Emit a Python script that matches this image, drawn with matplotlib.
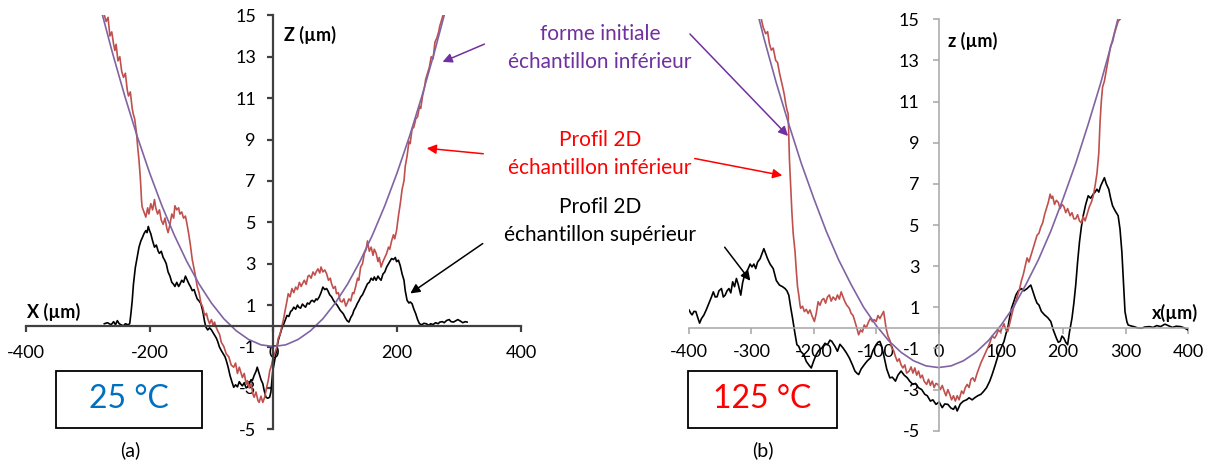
import matplotlib
matplotlib.use('Agg')
import matplotlib.pyplot as plt
from matplotlib.patches import Rectangle, FancyArrowPatch

plt.rcParams['font.family'] = ['Lato', 'DejaVu Sans']

W, H = 1206, 462

# ---- panel (a) : 25 °C ----
a_form_x = [-280, -260, -240, -220, -200, -180, -160, -140, -120, -100, -80, -60, -40, -20,
            0, 20, 40, 60, 80, 100, 120, 140, 160, 180, 200, 220, 240, 260, 280]
a_form_z = [15.46, 13.2, 11.1, 9.16, 7.4, 5.8, 4.38, 3.12, 2.02, 1.1, 0.34, -0.24, -0.66, -0.92,
            -1.0, -0.92, -0.66, -0.24, 0.34, 1.1, 2.02, 3.12, 4.38, 5.8, 7.4, 9.16, 11.1, 13.2, 15.46]

a_inf_x = [-273, -270, -267, -264, -261, -258, -256, -254, -251, -248, -245, -242, -239, -236,
           -234, -231, -228, -226, -224, -221, -219, -217, -215, -214, -213, -212, -209, -206,
           -203, -201, -198, -195, -192, -190, -187, -184, -181, -178, -175, -172, -170, -167,
           -164, -161, -159, -156, -153, -151, -148, -145, -142, -140, -137, -134, -131, -127,
           -123, -120, -117, -114, -111, -108, -106, -103, -100, -97, -95, -92, -89, -87, -84,
           -80, -76, -72, -68, -64, -61, -58, -55, -53, -50, -47, -44, -42, -39, -36, -33, -31,
           -28, -25, -23, -20, -17, -14, -11, -8, -6, -3, 0, 2, 5, 8, 11, 14, 17, 19, 22, 24,
           27, 30, 33, 36, 39, 42, 45, 47, 50, 53, 56, 58, 61, 64, 67, 69, 72, 75, 77, 80, 83,
           86, 89, 92, 94, 97, 100, 102, 105, 108, 111, 114, 117, 119, 122, 125, 128, 130, 133,
           136, 138, 141, 144, 147, 150, 152, 155, 158, 161, 163, 166, 169, 171, 174, 177, 180,
           183, 186, 188, 191, 194, 196, 199, 202, 205, 208, 211, 213, 216, 219, 221, 224, 227,
           230, 233, 236, 238, 241, 244, 246, 249, 252, 255, 258, 261, 264, 267, 269, 272, 274]
a_inf_z = [15.0, 14.7, 14.9, 14.0, 14.2, 13.6, 13.3, 13.6, 12.8, 13.0, 12.3, 12.0, 12.2, 11.4,
           11.1, 11.3, 10.5, 10.2, 10.0, 9.3, 8.6, 8.0, 7.2, 6.7, 6.1, 5.75, 5.5, 5.25, 5.7,
           5.4, 5.9, 5.6, 6.1, 5.7, 5.4, 5.6, 5.1, 4.9, 5.2, 4.7, 4.5, 4.9, 5.4, 5.2, 5.8, 5.6,
           5.7, 5.4, 5.5, 5.2, 5.3, 5.0, 4.5, 3.9, 3.2, 2.6, 1.9, 1.6, 1.1, 0.9, 0.5, 0.6, 0.34,
           0.1, 0.3, 0.0, 0.18, -0.1, -0.3, -0.4, -0.8, -1.0, -1.36, -1.5, -1.9, -2.0, -1.8,
           -2.3, -2.0, -2.2, -2.5, -2.3, -2.8, -2.65, -3.0, -2.8, -3.3, -3.45, -3.2, -3.6, -3.7,
           -3.4, -3.7, -3.45, -3.0, -2.6, -2.2, -1.9, -1.5, -1.36, -1.1, -0.6, -0.4, 0.0, 0.4,
           0.74, 1.2, 1.55, 1.4, 1.8, 1.6, 1.87, 1.75, 2.1, 1.9, 2.03, 2.2, 2.0, 2.4, 2.44, 2.3,
           2.6, 2.45, 2.6, 2.75, 2.55, 2.84, 2.6, 2.7, 2.52, 2.2, 2.3, 2.03, 1.8, 1.9, 1.55, 1.6,
           1.2, 1.15, 1.3, 0.95, 1.07, 1.3, 1.2, 1.6, 1.55, 1.9, 2.3, 2.2, 2.84, 3.0, 3.5, 3.7,
           4.1, 3.6, 3.8, 3.4, 3.7, 3.5, 3.1, 3.3, 2.84, 3.1, 3.3, 3.5, 3.8, 3.7, 4.1, 4.4, 4.2,
           4.6, 5.3, 5.9, 6.6, 7.0, 7.7, 8.2, 8.9, 8.8, 9.5, 9.6, 10.0, 10.1, 10.6, 10.5, 11.1,
           11.5, 11.9, 12.2, 12.5, 13.0, 12.9, 13.7, 13.9, 14.2, 14.5, 14.8, 15.0]

a_sup_x = [-273, -268, -265, -262, -258, -255, -252, -249, -246, -242, -239, -235, -232, -230,
           -228, -226, -223, -220, -217, -214, -211, -209, -206, -204, -202, -200, -198, -195,
           -192, -189, -186, -184, -181, -178, -176, -173, -170, -167, -164, -161, -159, -156,
           -153, -151, -148, -145, -142, -139, -136, -134, -131, -128, -126, -123, -120, -117,
           -114, -111, -109, -106, -103, -100, -98, -95, -92, -90, -87, -84, -81, -78, -76, -73,
           -70, -67, -64, -61, -58, -55, -53, -50, -47, -44, -42, -39, -36, -34, -31, -28, -26,
           -23, -20, -17, -15, -12, -9, -6, -4, -1, 2, 5, 8, 11, 14, 17, 19, 22, 25, 28, 30,
           33, 36, 39, 41, 44, 47, 50, 52, 55, 58, 61, 63, 66, 69, 71, 74, 77, 80, 83, 86, 88,
           91, 94, 97, 100, 103, 105, 108, 111, 113, 116, 119, 122, 125, 128, 130, 133, 136,
           138, 141, 144, 147, 150, 152, 155, 158, 161, 163, 166, 169, 171, 174, 177, 180, 183,
           186, 188, 191, 194, 197, 199, 202, 205, 208, 211, 213, 216, 219, 221, 224, 227, 230,
           233, 236, 240, 243, 247, 251, 254, 258, 262, 266, 269, 273, 276, 280, 284, 287, 291,
           295, 298, 302, 306, 310, 313]
a_sup_z = [0.1, 0.15, 0.1, 0.05, 0.2, 0.05, 0.25, 0.1, 0.05, 0.0, 0.1, 0.05, 0.1, 0.6, 1.2,
           2.0, 2.8, 3.3, 3.8, 4.1, 4.3, 4.45, 4.6, 4.5, 4.8, 4.6, 4.45, 4.1, 3.8, 3.9, 3.6,
           3.5, 3.6, 3.3, 3.2, 3.0, 2.6, 2.4, 2.1, 2.0, 1.9, 2.1, 1.9, 2.0, 2.2, 2.1, 2.4, 2.2,
           2.0, 1.9, 1.7, 1.75, 1.55, 1.3, 1.2, 1.07, 0.7, 0.2, -0.06, -0.2, -0.1, -0.2, -0.3,
           -0.45, -0.6, -0.75, -1.03, -1.2, -1.35, -1.5, -1.68, -2.0, -2.4, -2.7, -2.97, -2.85,
           -2.95, -2.7, -2.8, -2.9, -2.75, -3.0, -2.97, -2.8, -2.6, -2.65, -2.4, -2.2, -2.0,
           -2.3, -2.6, -2.8, -3.1, -3.45, -3.5, -3.45, -3.2, -2.2, -1.7, -1.2, -0.7, -0.4, -0.1,
           0.1, 0.26, 0.5, 0.45, 0.7, 0.74, 0.9, 0.8, 1.0, 0.9, 0.85, 1.05, 0.95, 0.9, 1.1,
           1.05, 1.2, 1.23, 1.15, 1.3, 1.25, 1.39, 1.6, 1.87, 1.75, 1.8, 1.7, 1.5, 1.4, 1.23,
           1.1, 1.0, 0.9, 0.75, 0.65, 0.58, 0.4, 0.25, 0.18, 0.4, 0.55, 0.74, 0.9, 1.1, 1.2,
           1.39, 1.5, 1.7, 1.9, 2.03, 2.1, 2.3, 2.2, 2.36, 2.2, 2.4, 2.3, 2.2, 2.5, 2.6, 2.84,
           3.0, 3.1, 3.25, 3.2, 3.3, 3.1, 3.17, 2.9, 2.5, 2.2, 1.7, 1.23, 1.1, 1.15, 1.07, 0.8,
           0.58, 0.3, 0.1, 0.05, 0.12, 0.1, 0.02, 0.1, 0.06, 0.15, 0.1, 0.18, 0.2, 0.15, 0.26,
           0.3, 0.2, 0.18, 0.25, 0.3, 0.23, 0.15, 0.2, 0.18]

# ---- panel (b) : 125 °C ----
b_form_x = [-300, -280, -260, -240, -220, -200, -180, -160, -140, -120, -100, -80, -60, -40, -20,
            0, 20, 40, 60, 80, 100, 120, 140, 160, 180, 200, 220, 240, 260, 280, 300]
b_form_z = [16.5, 14.1, 11.9, 9.9, 8.0, 6.3, 4.7, 3.3, 2.1, 1.0, 0.12, -0.62, -1.19, -1.6, -1.85,
            -1.93, -1.85, -1.6, -1.19, -0.62, 0.12, 1.0, 2.1, 3.3, 4.7, 6.3, 8.0, 9.9, 11.9, 14.1, 16.5]

b_inf_x = [-284, -281, -277, -274, -271, -268, -265, -261, -258, -255, -252, -249, -247, -245,
           -243, -241, -240, -239, -237, -235, -233, -230, -228, -226, -224, -222, -221, -218,
           -215, -212, -209, -206, -203, -201, -199, -196, -193, -190, -187, -184, -181, -178,
           -175, -172, -169, -165, -162, -159, -156, -153, -150, -147, -143, -140, -137, -134,
           -131, -128, -125, -122, -119, -116, -112, -109, -106, -103, -100, -97, -94, -91, -88,
           -86, -84, -81, -78, -75, -72, -69, -66, -63, -60, -57, -54, -51, -47, -44, -41, -38,
           -35, -32, -29, -26, -23, -19, -16, -13, -10, -7, -4, -1, 3, 6, 9, 12, 15, 18, 21, 24,
           27, 30, 33, 37, 40, 43, 46, 49, 52, 55, 58, 62, 65, 68, 71, 74, 77, 80, 83, 86, 90,
           93, 96, 99, 102, 105, 108, 111, 114, 117, 120, 123, 126, 130, 133, 136, 139, 142, 145,
           148, 151, 155, 158, 161, 164, 167, 170, 173, 176, 179, 181, 183, 186, 189, 192, 195,
           198, 201, 204, 207, 211, 214, 217, 220, 223, 226, 229, 232, 235, 239, 242, 245, 248,
           251, 254, 257, 259, 261, 263, 266, 270, 273, 276, 279, 282, 285, 288, 291]
b_inf_z = [15.0, 14.6, 14.3, 14.4, 13.8, 13.5, 13.6, 13.0, 12.9, 12.4, 12.0, 11.6, 11.3, 10.9,
           10.6, 10.4, 9.3, 8.2, 6.9, 5.6, 4.6, 3.7, 2.8, 2.0, 1.6, 1.1, 0.95, 1.05, 0.79, 0.9,
           0.7, 0.87, 0.6, 0.45, 0.31, 0.7, 1.27, 1.1, 1.35, 1.43, 1.2, 1.5, 1.6, 1.3, 1.5, 1.35,
           1.6, 1.4, 1.75, 1.5, 1.27, 1.1, 0.95, 0.7, 0.6, 0.31, 0.0, -0.34, -0.1, -0.2, 0.14,
           0.0, 0.3, 0.47, 0.3, 0.4, 0.31, 0.6, 0.45, 0.63, 0.8, 0.4, -0.02, -0.4, -0.6, -0.98,
           -1.1, -1.4, -1.63, -1.5, -1.8, -1.95, -1.8, -2.2, -2.1, -1.9, -2.2, -1.95, -2.3, -2.1,
           -2.43, -2.3, -2.6, -2.75, -2.5, -2.8, -2.59, -2.9, -2.7, -2.75, -3.0, -2.8, -3.07,
           -3.3, -3.0, -3.23, -3.5, -3.3, -3.56, -3.3, -3.5, -3.07, -3.2, -2.9, -2.75, -2.9,
           -2.5, -2.43, -2.6, -2.2, -1.95, -1.7, -1.5, -1.3, -1.1, -0.9, -0.66, -0.4, -0.5,
           -0.34, -0.1, -0.2, -0.02, 0.2, -0.1, -0.18, 0.2, 0.6, 0.95, 1.2, 1.5, 1.9, 2.3, 2.6,
           3.0, 3.4, 3.2, 3.5, 3.8, 4.2, 4.5, 4.6, 4.9, 5.1, 5.5, 5.8, 6.1, 6.5, 6.3, 6.4, 6.0,
           6.2, 6.1, 5.8, 6.0, 5.9, 5.6, 5.8, 5.45, 5.6, 5.3, 5.3, 5.5, 5.2, 5.1, 5.4, 5.2, 5.6,
           5.9, 6.1, 6.4, 6.9, 7.5, 8.5, 10.0, 11.0, 11.7, 12.0, 12.7, 13.2, 13.7, 13.9, 14.3,
           14.6, 14.9, 15.0]

b_sup_x = [-400, -397, -395, -392, -389, -386, -383, -380, -376, -372, -367, -364, -361, -358,
           -355, -352, -348, -345, -342, -339, -336, -333, -330, -327, -324, -321, -317, -314,
           -311, -308, -305, -302, -299, -296, -293, -290, -286, -283, -280, -277, -274, -270,
           -265, -260, -255, -250, -246, -243, -240, -237, -234, -230, -227, -224, -221, -216,
           -212, -208, -204, -200, -196, -192, -187, -182, -178, -174, -171, -166, -162, -158,
           -153, -148, -143, -138, -134, -131, -128, -124, -119, -114, -109, -105, -100, -97,
           -94, -91, -88, -83, -78, -74, -69, -65, -60, -55, -50, -46, -41, -37, -32, -27, -22,
           -18, -13, -9, -4, 1, 6, 10, 15, 20, 24, 27, 30, 35, 40, 45, 49, 54, 58, 63, 68, 72,
           77, 82, 86, 91, 96, 100, 105, 108, 111, 114, 117, 121, 124, 128, 133, 137, 142, 145,
           148, 152, 155, 158, 161, 165, 170, 175, 180, 184, 189, 192, 195, 198, 201, 204, 207,
           210, 214, 217, 220, 223, 226, 229, 232, 236, 240, 244, 248, 251, 254, 257, 260, 263,
           266, 269, 273, 276, 279, 283, 288, 291, 294, 297, 299, 302, 304, 308, 313, 319, 325,
           331, 338, 344, 350, 356, 363, 369, 375, 381, 388, 394, 400]
b_sup_z = [0.87, 0.7, 0.63, 0.8, 0.79, 0.5, 0.23, 0.45, 0.63, 0.9, 1.27, 1.5, 1.75, 1.5, 1.51,
           1.8, 1.91, 1.5, 1.59, 1.8, 1.91, 1.7, 2.24, 2.0, 2.4, 2.1, 1.59, 2.2, 2.56, 2.7, 2.88,
           3.1, 2.96, 3.1, 2.88, 3.2, 3.36, 3.6, 3.85, 3.6, 3.36, 3.1, 2.88, 2.3, 2.08, 2.0,
           1.91, 1.8, 1.59, 1.0, 0.47, -0.3, -0.82, -0.9, -1.14, -1.3, -1.63, -1.8, -1.95, -1.6,
           -1.3, -1.1, -0.98, -0.75, -0.82, -0.6, -0.66, -0.9, -1.14, -0.8, -0.98, -1.2, -1.46,
           -1.8, -2.1, -2.2, -2.27, -2.0, -1.79, -1.6, -1.46, -1.1, -0.82, -0.7, -0.66, -0.9,
           -1.3, -2.0, -2.43, -2.4, -2.59, -2.3, -2.1, -2.3, -2.43, -2.6, -2.75, -2.7, -2.91,
           -3.0, -3.23, -3.3, -3.56, -3.5, -3.72, -3.6, -3.88, -3.7, -3.72, -3.9, -3.96, -3.8,
           -4.04, -3.7, -3.56, -3.5, -3.4, -3.5, -3.4, -3.3, -3.23, -3.1, -2.91, -2.6, -2.27,
           -1.8, -1.3, -1.0, -0.66, -0.3, -0.02, 0.5, 0.95, 1.3, 1.59, 1.8, 1.91, 1.8, 1.91,
           2.0, 2.08, 1.7, 1.43, 1.2, 1.11, 0.8, 0.63, 0.5, 0.31, -0.1, -0.5, -0.7, -0.66, -0.4,
           -0.5, -0.7, -0.82, -0.2, 0.47, 1.2, 2.08, 3.2, 4.17, 4.9, 5.45, 6.0, 6.42, 6.3, 6.5,
           6.6, 6.74, 6.6, 6.9, 7.1, 7.3, 7.0, 6.74, 6.3, 5.94, 5.7, 5.45, 4.8, 3.68, 2.0, 0.79,
           0.3, 0.14, 0.1, 0.06, 0.0, -0.02, 0.04, 0.06, 0.02, 0.11, 0.06, 0.18, 0.1, 0.02,
           0.08, 0.06, 0.0, -0.1]

a_xticks = [-400, -200, 0, 200, 400]
b_xticks = [-400, -300, -200, -100, 0, 100, 200, 300, 400]
yticks = [-5, -3, -1, 1, 3, 5, 7, 9, 11, 13, 15]

C_RED = '#C0504D'
C_PUR = '#8064A2'


def px_rect(l, t, r, b):
    return [l / W, 1 - b / H, (r - l) / W, (b - t) / H]


def setup(ax, xticks, spine_color, lw, xpad, ypad):
    ax.set_xlim(-400, 400)
    ax.set_ylim(-5, 15)
    ax.spines['left'].set_position(('data', 0))
    ax.spines['bottom'].set_position(('data', 0))
    ax.spines['top'].set_visible(False)
    ax.spines['right'].set_visible(False)
    for s in ('left', 'bottom'):
        ax.spines[s].set_color(spine_color)
        ax.spines[s].set_linewidth(lw)
    ax.set_xticks(xticks)
    ax.set_xticklabels([str(v) for v in xticks])
    ax.set_yticks(yticks)
    ax.set_yticklabels([str(v) for v in yticks])
    ax.tick_params(axis='x', direction='out', length=4.5, width=lw, color=spine_color,
                   labelsize=13, pad=xpad, labelcolor='black')
    ax.tick_params(axis='y', direction='out', length=4.5, width=lw, color=spine_color,
                   labelsize=13, pad=ypad, labelcolor='black')
    ax.patch.set_alpha(0)


fig = plt.figure(figsize=(W / 100, H / 100), dpi=100)

ax1 = fig.add_axes(px_rect(25.7, 15.3, 521, 429.3))
setup(ax1, a_xticks, '#404040', 1.6, 9, 8)
ax1.plot(a_sup_x, a_sup_z, color='black', lw=1.2)
ax1.plot(a_inf_x, a_inf_z, color=C_RED, lw=1.2)
ax1.plot(a_form_x, a_form_z, color=C_PUR, lw=1.2)
ax1.text(-398, 0.25, 'X (µm)', fontsize=13, fontweight='bold', ha='left', va='bottom')
ax1.text(18, 14.05, 'Z (µm)', fontsize=13, fontweight='bold', ha='left', va='center')

ax2 = fig.add_axes(px_rect(689, 19.3, 1188, 430.7))
setup(ax2, b_xticks, '#A6A6A6', 1.1, 7, 9)
ax2.plot(b_sup_x, b_sup_z, color='black', lw=1.2)
ax2.plot(b_inf_x, b_inf_z, color=C_RED, lw=1.2)
ax2.plot(b_form_x, b_form_z, color=C_PUR, lw=1.2)
ax2.text(15, 13.95, 'z (µm)', fontsize=13, fontweight='bold', ha='left', va='center')
ax2.text(342, 0.3, 'x(µm)', fontsize=13, fontweight='bold', ha='left', va='bottom')

# temperature boxes
for (l, t, r, b), label, col in [((56, 371, 202, 428), '25 °C', '#0070C0'),
                                 ((688, 371, 837, 428), '125 °C', '#FF0000')]:
    fig.add_artist(Rectangle((l / W, 1 - b / H), (r - l) / W, (b - t) / H,
                             transform=fig.transFigure, fill=False, ec='black', lw=1.3))
    fig.text((l + r) / 2 / W, 1 - (t + b) / 2 / H, label, color=col, fontsize=23,
             ha='center', va='center')

fig.text(130 / W, 1 - 450 / H, '(a)', fontsize=14, ha='center', va='center')
fig.text(763 / W, 1 - 450 / H, '(b)', fontsize=14, ha='center', va='center')

# middle annotations
notes = [('forme initiale', 'échantillon inférieur', '#7030A0', 34, 62),
         ('Profil 2D', 'échantillon inférieur', '#FF0000', 140, 168),
         ('Profil 2D', 'échantillon supérieur', 'black', 207, 235)]
for l1, l2, col, y1, y2 in notes:
    fig.text(600 / W, 1 - y1 / H, l1, color=col, fontsize=15, ha='center', va='center')
    fig.text(600 / W, 1 - y2 / H, l2, color=col, fontsize=15, ha='center', va='center')

arrows = [((487, 43), (440, 63), '#7030A0'),
          ((688, 32), (790, 138), '#7030A0'),
          ((486, 154), (424, 148), '#FF0000'),
          ((692, 158), (785, 176), '#FF0000'),
          ((485, 242), (408, 295), 'black'),
          ((723, 245), (752, 283), 'black')]
for (x0, y0), (x1, y1), col in arrows:
    fig.add_artist(FancyArrowPatch((x0 / W, 1 - y0 / H), (x1 / W, 1 - y1 / H),
                                   transform=fig.transFigure, arrowstyle='-|>',
                                   mutation_scale=14, color=col, lw=1.1))

fig.savefig('out.png', dpi=100)
